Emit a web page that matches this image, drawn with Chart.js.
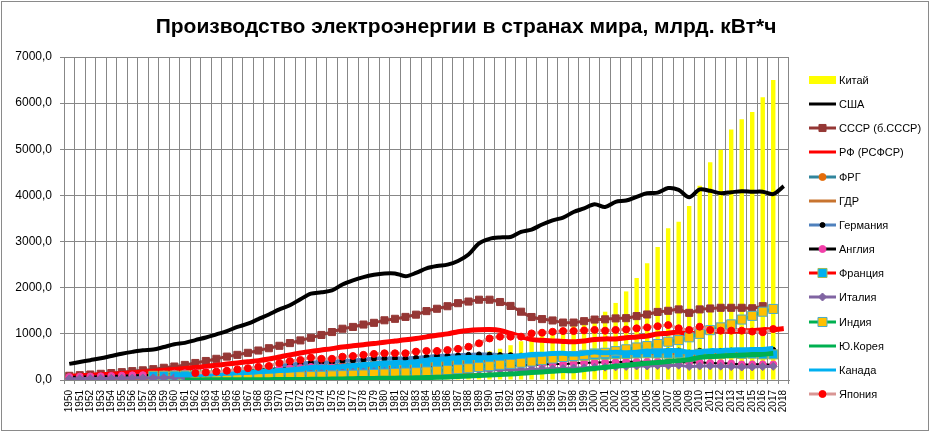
<!DOCTYPE html>
<html lang="ru">
<head>
<meta charset="utf-8">
<title>Производство электроэнергии в странах мира</title>
<script src="https://cdn.jsdelivr.net/npm/chart.js@4.4.1/dist/chart.umd.min.js"></script>
<style>
  html, body { margin: 0; padding: 0; background: #fff; }
  #wrap { position: relative; width: 932px; height: 433px; overflow: hidden; }
  #frame { position: absolute; left: 1px; top: 1px; width: 928px; height: 430px; border: 1px solid #8a8a8a; box-sizing: border-box; pointer-events: none; }
  #title { position: absolute; left: 0; top: 14px; width: 932px; text-align: center; font: bold 21px 'Liberation Sans', Arial, sans-serif; color: #000; white-space: nowrap; }
  #legend { position: absolute; left: 809px; top: 0; font: 11px 'Liberation Sans', Arial, sans-serif; color: #000; }
  .lg-item { position: absolute; left: 0; height: 14px; display: flex; align-items: center; white-space: nowrap; }
  .lg-item canvas { margin-right: 3px; }
</style>
</head>
<body>
<div id="wrap">
  <canvas id="chart" width="932" height="433"></canvas>
  <div id="title">Производство электроэнергии в странах мира, млрд. кВт*ч</div>
  <div id="legend"></div>
  <div id="frame"></div>
</div>
<script>
// годы 1950-2018
const years = [
  '1950','1951','1952','1953','1954','1955','1956','1957','1958','1959',
  '1960','1961','1962','1963','1964','1965','1966','1967','1968','1969',
  '1970','1971','1972','1973','1974','1975','1976','1977','1978','1979',
  '1980','1981','1982','1983','1984','1985','1986','1987','1988','1989',
  '1990','1991','1992','1993','1994','1995','1996','1997','1998','1999',
  '2000','2001','2002','2003','2004','2005','2006','2007','2008','2009',
  '2010','2011','2012','2013','2014','2015','2016','2017','2018'
];

const yTicks = [0, 1000, 2000, 3000, 4000, 5000, 6000, 7000];

const china = [
  null,null,null,null,null,null,null,19,28,42,
  59,48,46,49,56,68,83,77,72,94,
  116,138,152,167,169,196,203,223,257,282,
  301,309,328,351,377,411,450,497,545,585,
  621,678,754,840,928,1007,1081,1134,1167,1239,
  1356,1480,1670,1920,2210,2530,2880,3290,3430,3770,
  4210,4720,4990,5430,5650,5810,6130,6500,null
];
const usa = [
  350,390,430,470,520,570,610,645,660,715,
  775,805,865,920,990,1060,1150,1220,1320,1420,
  1530,1620,1750,1870,1900,1940,2070,2160,2230,2280,
  2310,2310,2250,2320,2420,2470,2500,2580,2720,2960,
  3060,3090,3100,3210,3260,3370,3460,3520,3640,3720,
  3810,3750,3860,3890,3970,4050,4060,4160,4120,3960,
  4130,4100,4050,4070,4090,4080,4080,4030,4200
];
const ussr = [
  91,104,119,134,150,170,192,210,235,265,
  292,327,369,412,459,507,545,589,639,689,
  741,800,858,915,976,1039,1111,1150,1202,1239,
  1294,1326,1367,1416,1493,1544,1599,1665,1700,1740,
  1740,1690,1605,1480,1365,1320,1290,1245,1245,1275,
  1310,1315,1335,1340,1385,1420,1475,1500,1530,1455,
  1530,1550,1565,1565,1565,1555,1600,null,null
];
const rf = [
  80,90,100,112,125,140,155,172,190,210,
  230,250,272,295,320,345,370,395,420,455,
  500,545,585,620,650,680,715,740,765,790,
  820,845,870,900,935,970,1000,1045,1075,1090,
  1095,1075,1010,940,880,860,847,834,827,846,
  878,891,891,916,932,953,996,1015,1040,992,
  1038,1055,1069,1059,1064,1068,1091,1091,1115
];
const frg = [
  46,53,59,64,71,77,86,93,98,106,
  119,124,135,147,158,172,178,186,203,226,
  243,260,275,299,315,301,333,336,353,372,
  369,369,367,374,394,408,408,418,431,440,
  455,null,null,null,null,null,null,null,null,null,
  null,null,null,null,null,null,null,null,null,null,
  null,null,null,null,null,null,null,null,null
];
const gdr = [
  19,21,23,25,26,28,31,33,35,38,
  40,42,44,46,50,53,57,60,63,64,
  68,70,72,76,80,85,89,93,96,96,
  99,101,102,104,110,114,117,118,118,119,
  108,null,null,null,null,null,null,null,null,null,
  null,null,null,null,null,null,null,null,null,null,
  null,null,null,null,null,null,null,null,null
];
const germany = [
  null,null,null,null,null,null,null,null,null,null,
  null,null,null,null,null,null,null,null,null,null,
  310,330,350,375,390,385,415,420,440,465,
  465,470,465,480,500,520,525,535,545,555,
  550,540,538,527,529,537,555,552,557,556,
  577,586,587,609,617,622,637,637,637,593,
  633,609,630,638,628,648,650,654,null
];
const england = [
  66,72,76,80,87,94,101,105,111,120,
  137,145,157,171,180,196,203,209,221,237,
  249,256,262,282,272,272,276,281,287,300,
  285,278,273,282,290,300,307,306,312,317,
  319,323,321,323,325,334,347,345,362,368,
  377,385,387,398,394,398,397,396,389,377,
  382,368,364,358,338,339,339,338,null
];
const france = [
  null,null,null,null,null,null,null,null,90,92,
  95,98,100,105,110,115,120,125,130,140,
  150,160,175,185,190,190,205,220,230,240,
  255,270,280,295,320,345,360,375,385,400,
  415,440,450,465,470,490,510,505,510,525,
  540,550,560,565,575,580,575,570,575,540,
  570,560,565,575,565,570,555,555,null
];
const italy = [
  25,29,31,34,36,38,42,45,46,50,
  56,61,65,70,76,82,89,94,101,111,
  118,124,130,139,145,147,162,167,174,181,
  186,183,182,182,183,185,192,201,203,210,
  217,222,226,223,232,241,244,251,260,265,
  277,279,285,294,304,304,314,314,319,293,
  302,303,299,290,280,283,290,296,null
];
const india = [
  null,null,null,null,null,null,null,null,null,null,
  null,null,30,35,40,45,50,55,60,65,
  70,75,80,85,90,100,105,115,120,130,
  140,150,160,170,185,200,215,235,255,280,
  300,330,350,375,400,430,465,500,520,545,
  575,590,625,665,705,735,780,830,865,925,
  1000,1080,1140,1205,1310,1390,1480,1540,null
];
const korea = [
  null,null,null,null,null,null,null,null,null,null,
  null,2,2,3,3,3,4,5,6,8,
  9,10,12,15,17,20,23,28,32,35,
  37,40,44,48,53,58,65,74,85,95,
  108,118,131,145,160,175,190,205,200,225,
  250,275,300,320,340,362,380,400,420,440,
  490,510,520,530,540,550,560,580,null
];
const canada = [
  null,null,null,null,null,null,null,null,null,null,
  114,115,118,125,135,144,158,165,177,190,
  205,218,240,270,280,273,294,317,335,352,
  367,378,376,395,428,446,462,481,490,482,
  482,499,510,527,553,560,573,578,562,580,
  606,589,601,590,599,626,612,639,632,603,
  608,636,634,651,654,660,663,688,null
];
const japan = [
  null,null,null,null,null,null,null,null,null,null,
  null,null,150,165,180,200,230,255,285,305,
  370,410,435,485,460,460,505,520,545,565,
  580,580,580,615,630,630,650,675,720,795,
  900,940,940,940,1010,1025,1045,1060,1060,1075,
  1085,1070,1085,1095,1120,1140,1165,1190,1120,1085,
  1155,1085,1070,1070,1070,1050,1035,1105,null
];

// серия: подпись, данные, цвет линии, толщина, маркер
const series = [
  { label: 'Китай', data: china, bar: true, color: '#ffff00' },
  { label: 'США', data: usa, color: '#000000', width: 4 },
  { label: 'СССР (б.СССР)', data: ussr, color: '#953735', width: 3, marker: { style: 'rect', r: 5, fill: '#953735', stroke: '#953735' } },
  { label: 'РФ (РСФСР)', data: rf, color: '#ff0000', width: 5 },
  { label: 'ФРГ', data: frg, color: '#31859c', width: 3, marker: { style: 'circle', r: 3.5, fill: '#e46c0a', stroke: '#e46c0a' } },
  { label: 'ГДР', data: gdr, color: '#c8742f', width: 3 },
  { label: 'Германия', data: germany, color: '#4f81bd', width: 4, marker: { style: 'circle', r: 2.5, fill: '#000000', stroke: '#000000' } },
  { label: 'Англия', data: england, color: '#000000', width: 2, marker: { style: 'circle', r: 3.5, fill: '#f23fa9', stroke: '#f23fa9' } },
  { label: 'Франция', data: france, color: '#ff0000', width: 3, marker: { style: 'rect', r: 6.4, fill: '#00b0f0', stroke: '#9bbb59' } },
  { label: 'Италия', data: italy, color: '#8064a2', width: 3, marker: { style: 'rectRot', r: 4, fill: '#8064a2', stroke: '#8064a2' } },
  { label: 'Индия', data: india, color: '#00b050', width: 3, marker: { style: 'rect', r: 6.4, fill: '#ffc000', stroke: '#4bacc6' } },
  { label: 'Ю.Корея', data: korea, color: '#00b050', width: 5 },
  { label: 'Канада', data: canada, color: '#00b0f0', width: 5 },
  { label: 'Япония', data: japan, color: '#d99694', width: 3, marker: { style: 'circle', r: 3.5, fill: '#ff0000', stroke: '#ff0000' } }
];

const gridColor = '#878787';
const fontFamily = "'Liberation Sans', Arial, sans-serif";

const datasets = series.map((s, i) => {
  if (s.bar) {
    return {
      type: 'bar', label: s.label, data: s.data,
      backgroundColor: s.color, borderWidth: 0,
      barPercentage: 0.42, categoryPercentage: 1,
      order: 100
    };
  }
  const m = s.marker;
  return {
    type: 'line', label: s.label, data: s.data,
    borderColor: s.color, borderWidth: s.width,
    tension: 0.3, spanGaps: false, fill: false,
    pointStyle: m ? m.style : false,
    pointRadius: m ? m.r : 0,
    pointBackgroundColor: m ? m.fill : s.color,
    pointBorderColor: m ? m.stroke : s.color,
    pointBorderWidth: 1,
    order: 50 - i   // later series drawn on top, as in Excel
  };
});

new Chart(document.getElementById('chart'), {
  type: 'bar',
  data: { labels: years, datasets },
  options: {
    responsive: false,
    animation: false,
    devicePixelRatio: 1,
    layout: { padding: { left: 0, right: 143, top: 57, bottom: 0 } },
    plugins: {
      legend: { display: false },
      tooltip: { enabled: false },
      title: { display: false }
    },
    scales: {
      x: {
        offset: true,
        grid: { offset: true, color: gridColor, lineWidth: 1, tickLength: 4 },
        border: { color: gridColor },
        ticks: {
          autoSkip: false, minRotation: 90, maxRotation: 90, padding: 6,
          color: '#000', font: { family: fontFamily, size: 10 }
        },
        afterFit(scale) { scale.height = 53; }
      },
      y: {
        min: 0, max: 7000,
        afterBuildTicks(scale) { scale.ticks = yTicks.map(v => ({ value: v })); },
        grid: { color: gridColor, lineWidth: 1, tickLength: 4 },
        border: { color: gridColor },
        ticks: {
          padding: 8, color: '#000', font: { family: fontFamily, size: 12 },
          callback: v => v.toFixed(1).replace('.', ',')
        },
        afterFit(scale) { scale.width = 64; }
      }
    }
  }
});

// легенда справа
function drawSwatch(s) {
  const c = document.createElement('canvas');
  c.width = 27; c.height = 14;
  const g = c.getContext('2d');
  if (s.bar) {
    g.fillStyle = s.color;
    g.fillRect(0, 3, 27, 8);
    return c;
  }
  g.strokeStyle = s.color;
  g.lineWidth = 3;
  g.beginPath(); g.moveTo(0, 7); g.lineTo(27, 7); g.stroke();
  const m = s.marker;
  if (m) {
    g.fillStyle = m.fill; g.strokeStyle = m.stroke; g.lineWidth = 1;
    const cx = 13.5, cy = 7;
    g.beginPath();
    if (m.style === 'circle') g.arc(cx, cy, m.r, 0, Math.PI * 2);
    else if (m.style === 'rect') { const h = m.r * Math.SQRT1_2; g.rect(cx - h, cy - h, h * 2, h * 2); }
    else { g.moveTo(cx, cy - m.r); g.lineTo(cx + m.r, cy); g.lineTo(cx, cy + m.r); g.lineTo(cx - m.r, cy); g.closePath(); }
    g.fill(); g.stroke();
  }
  return c;
}

const legend = document.getElementById('legend');
series.forEach((s, i) => {
  const item = document.createElement('div');
  item.className = 'lg-item';
  item.style.top = (80 + i * 24.15 - 7) + 'px';
  item.appendChild(drawSwatch(s));
  const t = document.createElement('span');
  t.textContent = s.label;
  item.appendChild(t);
  legend.appendChild(item);
});
</script>
</body>
</html>
